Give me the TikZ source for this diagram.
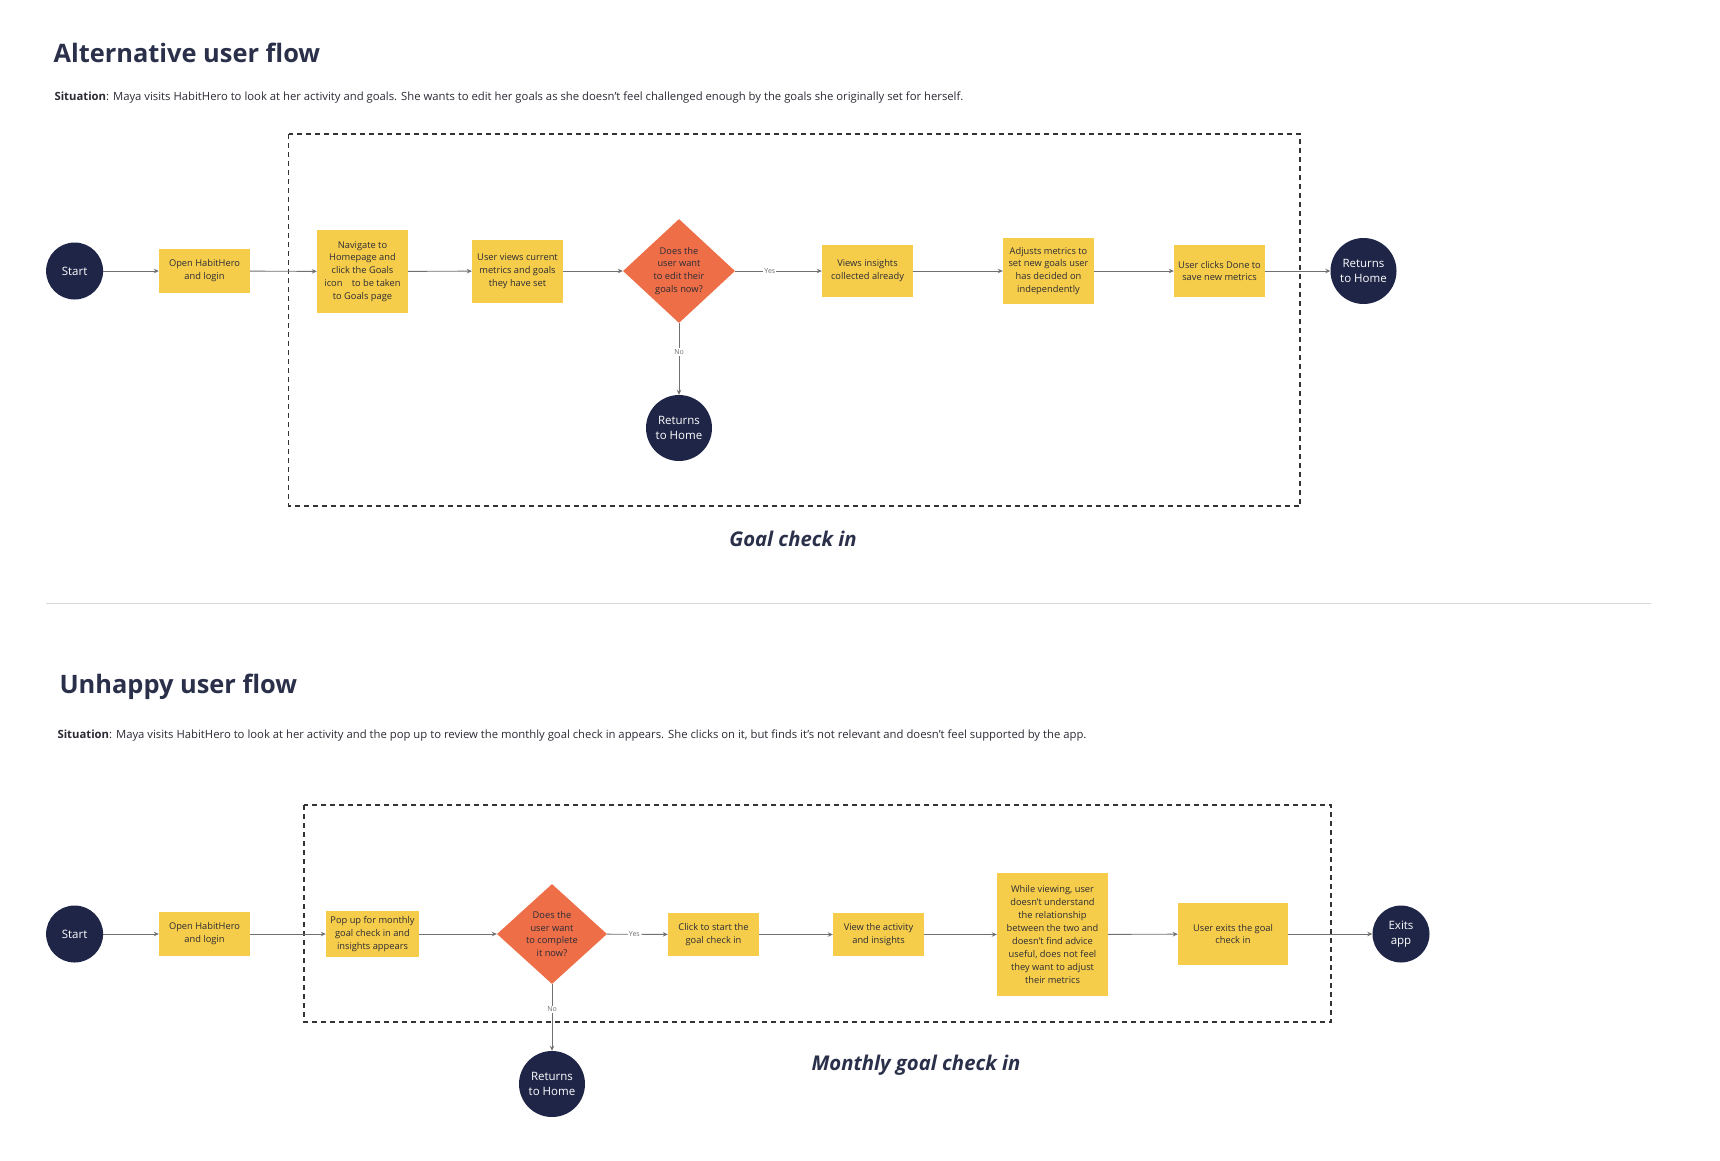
\documentclass[tikz,border=0pt]{standalone}
\usepackage{fontspec}
\setmainfont{Open Sans}
\usetikzlibrary{arrows.meta,shapes.geometric}
\definecolor{navy}{HTML}{1F2547}
\definecolor{stickyc}{HTML}{F6CD4A}
\definecolor{orng}{HTML}{EE6E48}
\definecolor{ttl}{HTML}{2A3049}
\definecolor{conn}{HTML}{707070}
\definecolor{boxtext}{HTML}{2B2B35}
\begin{document}
\begin{tikzpicture}[x=1pt,y=-1pt,
  sticky/.style={fill=stickyc, draw=none, inner sep=0pt, minimum width=91pt, minimum height=#1, align=center, font=\fontsize{9.3}{12.9}\selectfont, text=boxtext},
  endpt/.style={circle, fill=navy, text=white, minimum size=#1, inner sep=0pt, align=center, font=\fontsize{11.5}{15.2}\selectfont},
  decision/.style={diamond, fill=orng, inner sep=0pt, minimum width=#1, minimum height=104pt},
  dtext/.style={align=center, font=\fontsize{9.3}{12.9}\selectfont, text=boxtext},
  flow/.style={draw=conn, line width=0.9pt, -{Stealth[length=5pt,width=4.5pt]}},
  lbl/.style={fill=white, font=\fontsize{7}{8}\selectfont, text=conn, inner sep=1.2pt},
  dbox/.style={draw=black!80, line width=1.1pt, dash pattern=on 5pt off 4pt},
  heading/.style={anchor=west, font=\fontsize{25.4}{30}\selectfont\bfseries, text=ttl},
  situ/.style={anchor=west, font=\fontsize{11.3}{14}\selectfont, text=boxtext},
  caption/.style={font=\fontsize{20.3}{24}\selectfont\bfseries\itshape, text=ttl}
]
\useasboundingbox[fill=white] (0,0) rectangle (1720,1160);

% ---------- Alternative user flow ----------
\node[heading] (t1) at (50,53) {Alternative user flow};
\node[situ] (s1) at (51,98) {\textbf{Situation}: Maya visits HabitHero to look at her activity and goals. She wants to edit her goals as she doesn't feel challenged enough by the goals she originally set for herself.};

\draw[dbox] (288.5,134) rectangle (1300,506);

\node[endpt=57pt] (a0) at (74.6,271) {Start};
\node[sticky=44pt] (a1) at (204.5,271) {Open HabitHero\\and login};
\node[sticky=83pt] (a2) at (362.5,271.5) {Navigate to\\Homepage and\\click the Goals\\icon\quad to be taken\\to Goals page};
\node[sticky=63pt] (a3) at (517.5,271) {User views current\\metrics and goals\\they have set};
\node[decision=112pt] (a4) at (679,271) {};
\node[dtext] at (a4.center) {Does the\\user want\\to edit their\\goals now?};
\node[sticky=52pt] (a5) at (867.5,271) {Views insights\\collected already};
\node[sticky=66pt] (a6) at (1048.5,271) {Adjusts metrics to\\set new goals user\\has decided on\\independently};
\node[sticky=52pt] (a7) at (1219.5,271) {User clicks Done to\\save new metrics};
\node[endpt=66pt] (a8) at (1363.5,271) {Returns\\to Home};
\node[endpt=66pt] (a9) at (679,428) {Returns\\to Home};

\draw[flow] (a0) -- (a1);
\draw[flow] (a1) -- (a2);
\draw[flow] (a2) -- (a3);
\draw[flow] (a3) -- (a4);
\draw[flow] (a4) -- node[lbl, pos=0.4]{Yes} (a5);
\draw[flow] (a5) -- (a6);
\draw[flow] (a6) -- (a7);
\draw[flow] (a7) -- (a8);
\draw[flow] (a4) -- node[lbl, pos=0.4]{No} (a9);

\node[caption] (c1) at (793,539) {Goal check in};

% separator
\draw[draw=black!15, line width=1pt] (46,603.5) -- (1651,603.5);

% ---------- Unhappy user flow ----------
\node[heading] (t2) at (56,687) {Unhappy user flow};
\node[situ] (s2) at (54,736) {\textbf{Situation}: Maya visits HabitHero to look at her activity and the pop up to review the monthly goal check in appears. She clicks on it, but finds it's not relevant and doesn't feel supported by the app.};

\draw[dbox] (304,805) rectangle (1331,1022);

\node[endpt=57pt] (b0) at (74.6,934) {Start};
\node[sticky=44pt] (b1) at (204.5,934) {Open HabitHero\\and login};
\node[sticky=46pt, minimum width=93pt] (b2) at (372.5,934) {Pop up for monthly\\goal check in and\\insights appears};
\node[decision=110pt, minimum height=100pt] (b3) at (552,934) {};
\node[dtext] at (b3.center) {Does the\\user want\\to complete\\it now?};
\node[sticky=43pt] (b4) at (713.5,934.5) {Click to start the\\goal check in};
\node[sticky=43pt] (b5) at (878.5,934.5) {View the activity\\and insights};
\node[sticky=123pt, minimum width=111pt] (b6) at (1052.5,934.5) {While viewing, user\\doesn't understand\\the relationship\\between the two and\\doesn't find advice\\useful, does not feel\\they want to adjust\\their metrics};
\node[sticky=62pt, minimum width=110pt] (b7) at (1233,934) {User exits the goal\\check in};
\node[endpt=57pt] (b8) at (1401,934) {Exits\\app};
\node[endpt=66pt] (b9) at (552,1084) {Returns\\to Home};

\draw[flow] (b0) -- (b1);
\draw[flow] (b1) -- (b2);
\draw[flow] (b2) -- (b3);
\draw[flow] (b3) -- node[lbl, pos=0.45]{Yes} (b4);
\draw[flow] (b4) -- (b5);
\draw[flow] (b5) -- (b6);
\draw[flow] (b6) -- (b7);
\draw[flow] (b7) -- (b8);
\draw[flow] (b3) -- node[lbl, pos=0.38]{No} (b9);

\node[caption] (c2) at (916,1065) {Monthly goal check in};
\end{tikzpicture}
\end{document}
